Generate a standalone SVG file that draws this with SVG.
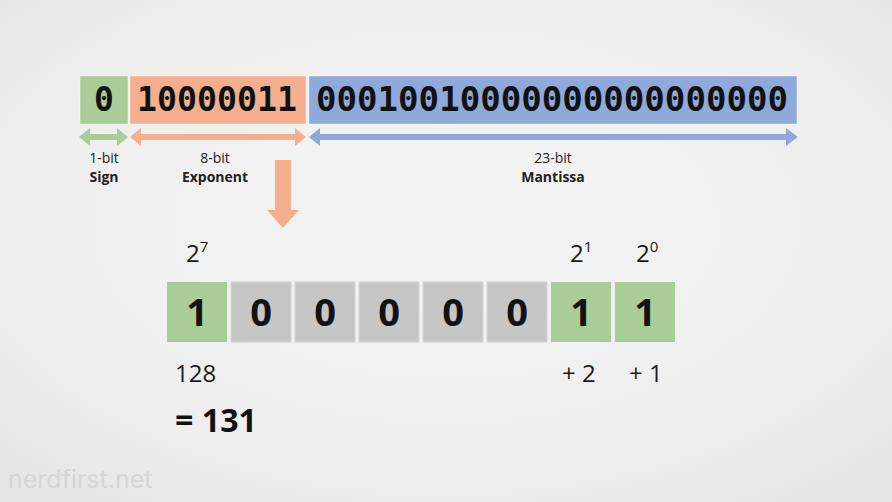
<svg xmlns="http://www.w3.org/2000/svg" width="892" height="502" viewBox="0 0 892 502">
<defs>
<radialGradient id="bg" cx="0.5" cy="0.45" r="0.75">
<stop offset="0" stop-color="#f4f4f4"/>
<stop offset="0.7" stop-color="#eeeeee"/>
<stop offset="1" stop-color="#e3e3e3"/>
</radialGradient>
<style>
.mono{font-family:"DejaVu Sans Mono","Liberation Mono",monospace;font-weight:bold;font-size:33px;fill:#111}
.lbl{font-family:"Open Sans","Liberation Sans",sans-serif;font-size:14px;fill:#222;text-anchor:middle}
.lblb{font-weight:bold}
.num{font-family:"Open Sans","Liberation Sans",sans-serif;font-size:24px;fill:#1a1a1a}
.total{font-family:"Open Sans","Liberation Sans",sans-serif;font-size:33px;font-weight:bold;fill:#111}
.sup{font-size:15px}
.bit{font-family:"Open Sans","Liberation Sans",sans-serif;font-weight:bold;font-size:38px;fill:#111;text-anchor:middle}
.g{fill:#a8cd96}
.o{fill:#f4b08e}
.b{fill:#8fa9da}
.gr{fill:#c6c6c6;stroke:#d6d6d6;stroke-width:1}
.bx{stroke:#ffffff;stroke-opacity:0.4;stroke-width:1}
</style>
</defs>
<rect width="892" height="502" fill="url(#bg)"/>
<text x="8" y="488" font-family="Inter,'Open Sans',sans-serif" font-size="25" fill="#d6d6d6">nerdfirst.net</text>

<g id="sign">
<rect class="g bx" x="80" y="76" width="48" height="48"/>
<text class="mono" x="104" y="111" text-anchor="middle">0</text>
</g>
<g id="exponent">
<rect class="o bx" x="130" y="76" width="176" height="48"/>
<text class="mono" x="217" y="111" text-anchor="middle" textLength="160" lengthAdjust="spacingAndGlyphs">10000011</text>
</g>
<g id="mantissa">
<rect class="b bx" x="309" y="76" width="488" height="48"/>
<text class="mono" x="552" y="111" text-anchor="middle" textLength="472" lengthAdjust="spacingAndGlyphs">00010010000000000000000</text>
</g>

<g id="connectors">
<path class="g" d="M79,137 L90,128 L90,134 L117,134 L117,128 L128,137 L117,146 L117,140 L90,140 L90,146 Z"/>
<path class="o" d="M130,137 L141,128 L141,134 L295,134 L295,128 L306,137 L295,146 L295,140 L141,140 L141,146 Z"/>
<path class="b" d="M309,137 L320,128 L320,134 L786,134 L786,128 L798,137 L786,146 L786,140 L320,140 L320,146 Z"/>
<path class="o" d="M275,160 L291,160 L291,210 L299,210 L283,228 L267,210 L275,210 Z"/>
</g>

<g id="labels">
<text class="lbl" x="104" y="163">1-bit</text>
<text class="lbl lblb" x="104" y="182">Sign</text>
<text class="lbl" x="215" y="163">8-bit</text>
<text class="lbl lblb" x="215" y="182">Exponent</text>
<text class="lbl" x="553" y="163">23-bit</text>
<text class="lbl lblb" x="553" y="182">Mantissa</text>
</g>

<g id="powers">
<text class="num" x="186" y="262">2<tspan class="sup" dy="-10">7</tspan></text>
<text class="num" x="570" y="262">2<tspan class="sup" dy="-10">1</tspan></text>
<text class="num" x="636" y="262">2<tspan class="sup" dy="-10">0</tspan></text>
</g>

<g id="bit7"><rect class="g" x="167" y="282" width="60" height="60"/><text class="bit" x="197" y="326">1</text></g>
<g id="bit6"><rect class="gr" x="231" y="282" width="60" height="60"/><text class="bit" x="261" y="326">0</text></g>
<g id="bit5"><rect class="gr" x="295" y="282" width="60" height="60"/><text class="bit" x="325" y="326">0</text></g>
<g id="bit4"><rect class="gr" x="359" y="282" width="60" height="60"/><text class="bit" x="389" y="326">0</text></g>
<g id="bit3"><rect class="gr" x="423" y="282" width="60" height="60"/><text class="bit" x="453" y="326">0</text></g>
<g id="bit2"><rect class="gr" x="487" y="282" width="60" height="60"/><text class="bit" x="517" y="326">0</text></g>
<g id="bit1"><rect class="g" x="551" y="282" width="60" height="60"/><text class="bit" x="581" y="326">1</text></g>
<g id="bit0"><rect class="g" x="615" y="282" width="60" height="60"/><text class="bit" x="645" y="326">1</text></g>

<g id="sums">
<text class="num" x="175" y="382">128</text>
<text class="num" x="562" y="382">+ 2</text>
<text class="num" x="629" y="382">+ 1</text>
<text class="total" x="175" y="432" textLength="82" lengthAdjust="spacingAndGlyphs">= 131</text>
</g>
</svg>
